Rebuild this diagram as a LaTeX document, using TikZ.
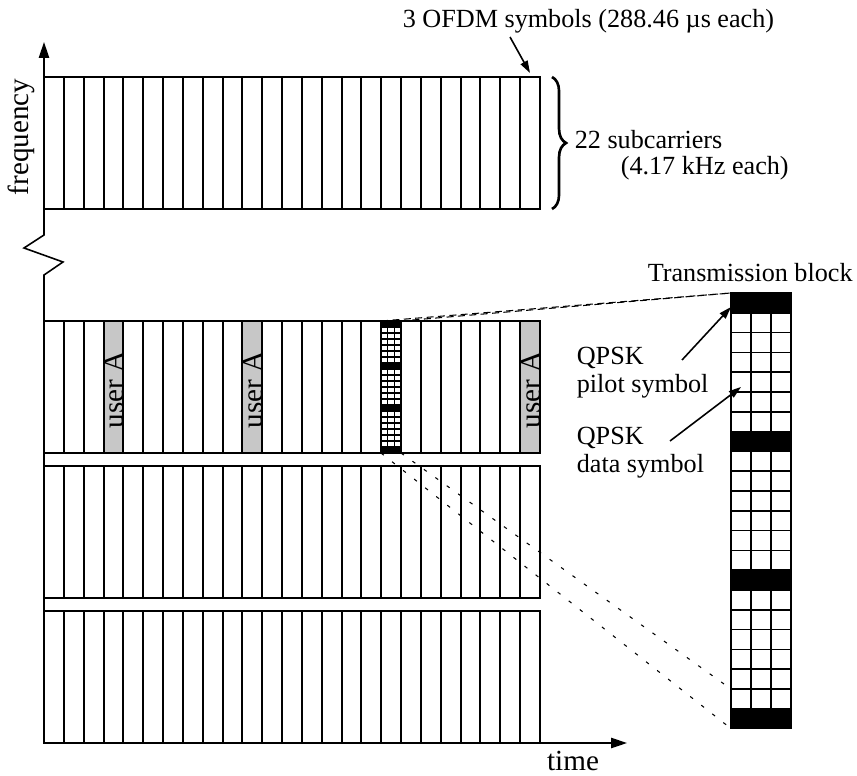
\documentclass[tikz,border=0pt]{standalone}
\usepackage{fontspec}
\setmainfont{Liberation Serif}
\usetikzlibrary{arrows.meta,calc,decorations.pathreplacing}
\begin{document}
\begin{tikzpicture}[x=0.02cm,y=-0.02cm,line width=0.9pt,
  every node/.style={font=\fontsize{14.9}{15.7}\selectfont,inner sep=0pt},
  biglbl/.style={font=\fontsize{16.6}{18}\selectfont},
  axis/.style={-{Triangle[length=9pt,width=5.8pt]}},
  pointer/.style={-{Triangle[length=7pt,width=4.4pt]}},
  zoomline/.style={line width=0.6pt,dash pattern=on 4pt off 2.5pt},
  usercol/.style={draw,fill=black!22},
  finegrid/.style={line width=0.8pt}]
  \useasboundingbox (0,0) rectangle (857,776);
  \foreach \rowy in {77,321,466,611}{
    \draw (44,\rowy) rectangle (540,\rowy+132);
    \foreach \i in {1,...,24}{
      \pgfmathsetmacro\cx{round(44+\i*19.84)}
      \draw (\cx,\rowy) -- ++(0,132);
    }
  }
  \foreach \i in {3,10,24}{
    \pgfmathsetmacro\cl{round(44+\i*19.84)}
    \pgfmathsetmacro\cr{round(44+(\i+1)*19.84)}
    \filldraw[usercol] (\cl,321) rectangle (\cr,453);
    \node[biglbl,rotate=90,anchor=base] (user\i) at (\cr+0.8,390) {user A};
  }
  \coordinate (miniTL) at (381,321); \coordinate (miniTR) at (401,321);
  \coordinate (miniBL) at (381,453); \coordinate (miniBR) at (401,453);
  \foreach \k in {0,7,14,21} \fill (miniTL) ++(0,\k*6) rectangle ++(20,6);
  \foreach \k in {1,...,21} \draw[finegrid] (miniTL) ++(0,\k*6) -- ++(20,0);
  \foreach \k in {1,2} \draw[finegrid] (miniTL) ++(\k*6.67,0) -- ++(0,132);
  \coordinate (blkTL) at (731,293); \coordinate (blkBL) at (731,728.6);
  \coordinate (blkR20) at (731,689); \coordinate (blkP) at (731,307); \coordinate (blkD) at (741,387);
  \foreach \k in {0,7,14,21} \fill (blkTL) ++(0,\k*19.8) rectangle ++(60,19.8);
  \foreach \k in {1,...,21} \draw (blkTL) ++(0,\k*19.8) -- ++(60,0);
  \foreach \k in {1,2} \draw (blkTL) ++(\k*20,0) -- ++(0,435.6);
  \draw (blkTL) rectangle ++(60,435.6);
  \draw[zoomline] (miniTL) -- (blkTL); \draw[zoomline] (miniTR) -- (blkTL);
  \draw[zoomline,dash pattern=on 2pt off 6pt] (miniBL) -- (blkBL); \draw[zoomline,dash pattern=on 2pt off 6pt] (miniBR) -- (blkR20);
  \coordinate (origin) at (44,743);
  \draw[axis] (origin) -- (44,275) -- (63,262) -- (24,248) -- (44,235) -- (44,42);
  \draw[axis] (origin) -- (627,743);
  \node[biglbl,rotate=90,anchor=base] (freq) at (29,137) {frequency};
  \node[biglbl,anchor=base] (time) at (573,770) {time};
  \node[anchor=base west] (ofdm) at (402,28) {3 OFDM symbols (288.46 µs each)};
  \coordinate (ofdmtip) at (530,73);
  \draw[pointer] ($(ofdm.base west)+(108,9)$) -- (ofdmtip);
  \draw[decorate,decoration={brace,amplitude=8pt},line width=1.5pt] (552,77) -- (552,209);
  \node[anchor=base west] (subc) at (574,149) {22 subcarriers};
  \node[anchor=base west] (subbw) at (620,175) {(4.17 kHz each)};
  \node[anchor=base west] (tblock) at (647,282) {Transmission block};
  \node[anchor=base west,align=left] (pilot) at (576,392) {QPSK\\pilot symbol};
  \node[anchor=base west,align=left] (data) at (576,472) {QPSK\\data symbol};
  \draw[pointer] ($(pilot.base west)+(106,-32)$) -- (blkP);
  \draw[pointer] ($(data.base west)+(94,-31)$) -- (blkD);
\end{tikzpicture}
\end{document}
